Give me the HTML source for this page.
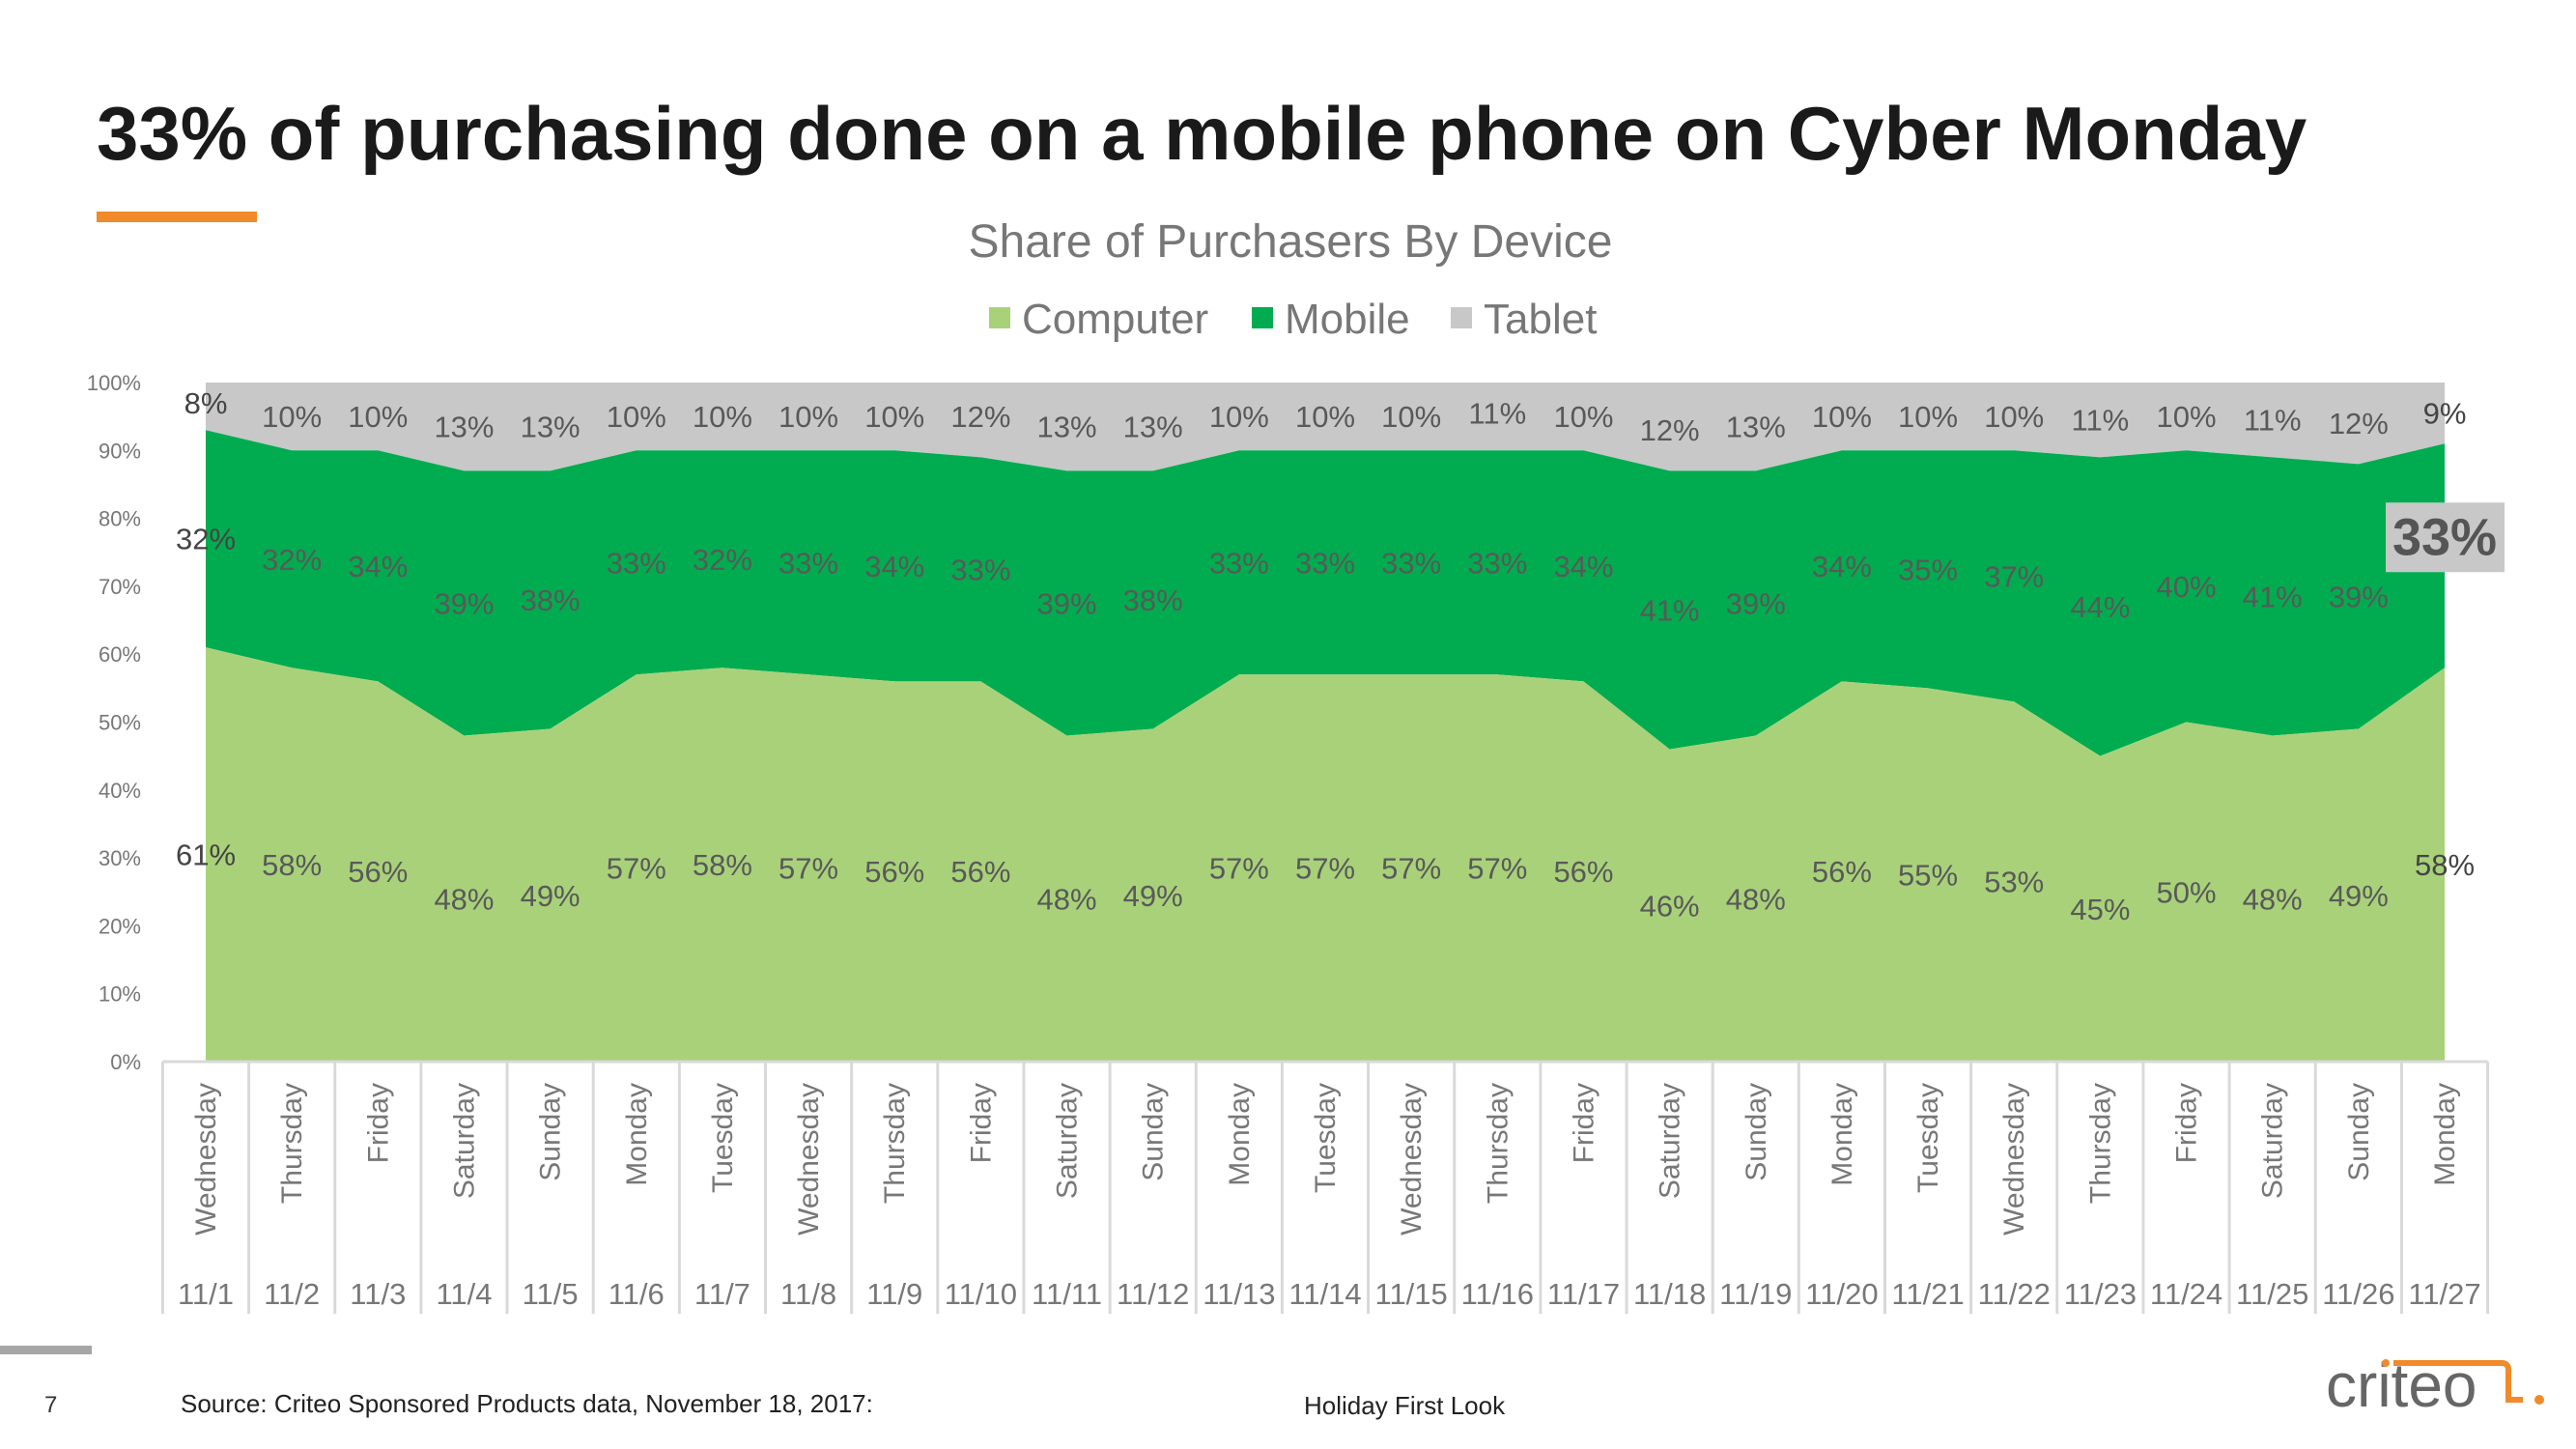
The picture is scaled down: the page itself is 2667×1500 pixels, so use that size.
<!DOCTYPE html>
<html><head><meta charset="utf-8"><style>
html,body{margin:0;padding:0;background:#fff;}
svg{display:block;font-family:"Liberation Sans",Arial,sans-serif;}
</style></head><body>
<svg id="chart" width="2667" height="1500" viewBox="0 0 2667 1500" xmlns="http://www.w3.org/2000/svg">
<text x="100" y="165" font-size="78" font-weight="bold" fill="#1a1a1a">33% of purchasing done on a mobile phone on Cyber Monday</text>
<rect x="100" y="219" width="166" height="11" fill="#f08a2a"/>
<text x="1336" y="266" font-size="48" fill="#777" text-anchor="middle">Share of Purchasers By Device</text>
<g>
<rect x="1024" y="318" width="22" height="22" fill="#a9d17a"/>
<text x="1058" y="345" font-size="44" fill="#777">Computer</text>
<rect x="1296" y="318" width="22" height="22" fill="#00ac4f"/>
<text x="1330" y="345" font-size="44" fill="#777">Mobile</text>
<rect x="1502" y="318" width="22" height="22" fill="#c8c8c8"/>
<text x="1536" y="345" font-size="44" fill="#777">Tablet</text>
</g>
<g id="plot"></g>
<rect x="0" y="1393" width="95" height="9" fill="#a6a6a6"/>
<text x="46" y="1462" font-size="24" fill="#333">7</text>
<text x="187" y="1462" font-size="26" fill="#222">Source: Criteo Sponsored Products data, November 18, 2017:</text>
<text x="1350" y="1464" font-size="26" fill="#222">Holiday First Look</text>
<g>
<text x="2408" y="1456" font-size="64" fill="#666">criteo</text>
<path d="M2478 1411 H2590 Q2597 1411 2597 1418 V1449 H2612" stroke="#f08a2a" stroke-width="6" fill="none"/>
<circle cx="2470" cy="1411" r="4" fill="#f08a2a"/>
<circle cx="2629" cy="1449" r="5" fill="#f08a2a"/>
</g>
</svg>
<script>
const days=["Wednesday","Thursday","Friday","Saturday","Sunday","Monday","Tuesday","Wednesday","Thursday","Friday","Saturday","Sunday","Monday","Tuesday","Wednesday","Thursday","Friday","Saturday","Sunday","Monday","Tuesday","Wednesday","Thursday","Friday","Saturday","Sunday","Monday"];
const dates=["11/1","11/2","11/3","11/4","11/5","11/6","11/7","11/8","11/9","11/10","11/11","11/12","11/13","11/14","11/15","11/16","11/17","11/18","11/19","11/20","11/21","11/22","11/23","11/24","11/25","11/26","11/27"];
const computer=[61,58,56,48,49,57,58,57,56,56,48,49,57,57,57,57,56,46,48,56,55,53,45,50,48,49,58];
const mobile=[32,32,34,39,38,33,32,33,34,33,39,38,33,33,33,33,34,41,39,34,35,37,44,40,41,39,33];
const tablet=[8,10,10,13,13,10,10,10,10,12,13,13,10,10,10,11,10,12,13,10,10,10,11,10,11,12,9];
const yTicks=[0,10,20,30,40,50,60,70,80,90,100];

const NS="http://www.w3.org/2000/svg";
const g=document.getElementById('plot');
const x0=213,x1=2531,yTop=396,yBot=1099;
const n=days.length, step=(x1-x0)/(n-1);
const X=i=>x0+i*step;
const Y=v=>yBot-(v/100)*(yBot-yTop);
function mk(tag,attrs,parent){const e=document.createElementNS(NS,tag);for(const k in attrs)e.setAttribute(k,attrs[k]);(parent||g).appendChild(e);return e;}

yTicks.forEach(t=>{
  const e=mk('text',{x:146,y:Y(t)+8,'font-size':22,fill:'#777','text-anchor':'end'});
  
  
  e.textContent=t+'%';
});

let top100=computer.map((c,i)=>X(i)+','+Y(100)).join(' ');
let stack=computer.map((c,i)=>X(i)+','+Y(c+mobile[i]));
const tb=mk('polygon',{points:top100+' '+stack.slice().reverse().join(' '),fill:'#c8c8c8'});


const cPts=computer.map((c,i)=>X(i)+','+Y(c));
const mb=mk('polygon',{points:stack.join(' ')+' '+cPts.slice().reverse().join(' '),fill:'#00ac4f'});


const cp=mk('polygon',{points:cPts.join(' ')+' '+X(n-1)+','+yBot+' '+X(0)+','+yBot,fill:'#a9d17a'});



function label(x,y,txt,name,col){
  const e=mk('text',{x:x,y:y+11,'font-size':31,fill:col,'text-anchor':'middle'});
  
  
  e.textContent=txt;
}
for(let i=0;i<n;i++){
  const edge=(i===0||i===n-1);
  const col=edge?'#444':'#595959';
  label(X(i),Y(computer[i]/2),computer[i]+'%','computer-value',col);
  if(i<n-1) label(X(i),Y(computer[i]+mobile[i]/2),mobile[i]+'%','mobile-value',col);
  label(X(i),Y(computer[i]+mobile[i]+tablet[i]/2),tablet[i]+'%','tablet-value',col);
}
const cb=mk('rect',{x:X(n-1)-61,y:Y(computer[n-1]+mobile[n-1]/2)-36-19,width:123,height:72,fill:'#c8c8c8'});


const ct=mk('text',{x:X(n-1),y:Y(computer[n-1]+mobile[n-1]/2)-1,'font-size':54,'font-weight':'bold',fill:'#555','text-anchor':'middle'});


ct.textContent=mobile[n-1]+'%';

for(let i=0;i<=n;i++){
  const lx=X(i)-step/2;
  const l=mk('line',{x1:lx,y1:yBot,x2:lx,y2:1360,stroke:'#d9d9d9','stroke-width':3});
  
  
}
mk('line',{x1:X(0)-step/2,y1:yBot,x2:X(n-1)+step/2,y2:yBot,stroke:'#d9d9d9','stroke-width':3});
for(let i=0;i<n;i++){
  const d=mk('text',{x:0,y:0,'font-size':30,fill:'#777','text-anchor':'end',transform:`translate(${X(i)+10},1121) rotate(-90)`});
  
  
  d.textContent=days[i];
  const t=mk('text',{x:X(i),y:1350,'font-size':31,fill:'#777','text-anchor':'middle'});
  
  
  t.textContent=dates[i];
}
</script>
</body></html>
